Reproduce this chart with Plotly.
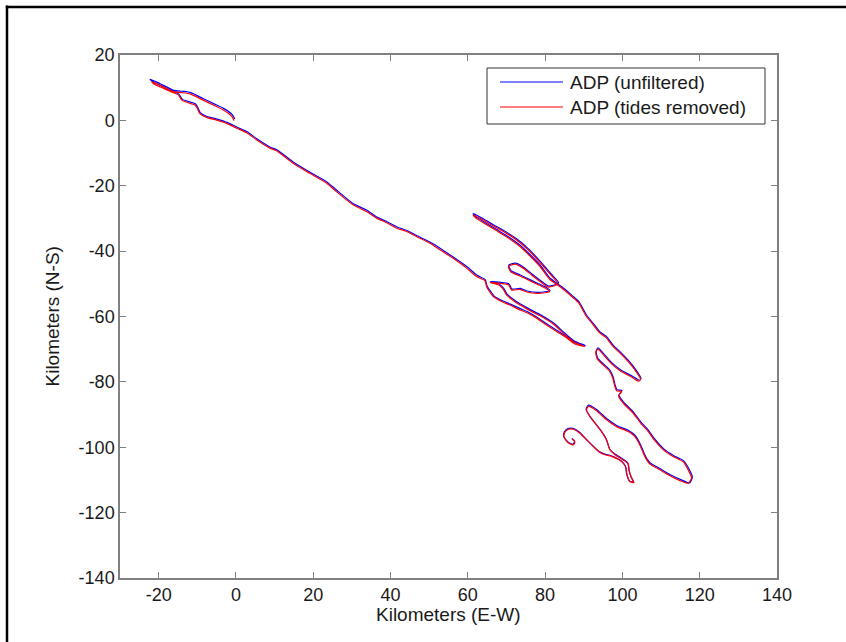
import plotly.graph_objects as go

# Track positions (km): (E-W, N-S)
red_pts = [
    (-0.5, 0.0), (-1.1, 1.3), (-3.3, 3.2), (-6.0, 4.8), (-8.5, 6.2), (-11.9, 8.1), (-14.0, 8.5),
    (-16.2, 8.8), (-19.7, 10.8), (-21.8, 11.8), (-21.0, 11.0), (-19.5, 10.2), (-16.5, 8.6),
    (-14.9, 7.8), (-14.0, 6.2), (-11.9, 5.2), (-10.6, 4.7), (-10.0, 3.7), (-9.3, 2.0), (-7.6, 0.9),
    (-5.0, 0.1), (-2.4, -0.9), (0.2, -2.4), (2.8, -3.8), (5.4, -6.0), (8.8, -8.5), (10.5, -9.3),
    (14.8, -13.1), (19.1, -16.2), (23.5, -19.2), (26.0, -21.8), (30.4, -25.9), (33.8, -27.9),
    (36.4, -29.9), (39.0, -31.3), (41.6, -33.0), (44.2, -34.0), (46.8, -35.6), (50.2, -37.6),
    (52.8, -39.6), (56.2, -42.2), (59.7, -45.2), (62.3, -47.8), (64.4, -49.0),
    (64.9, -51.0), (66.6, -53.9), (68.7, -55.4), (70.9, -56.5), (73.5, -58.0), (75.6, -59.0),
    (77.8, -60.5), (80.4, -62.6), (83.0, -64.6), (85.6, -66.6), (87.7, -68.4), (90.3, -69.2),
    (87.3, -67.7), (84.7, -65.1), (82.1, -62.3), (78.7, -59.8), (76.1, -58.2), (73.5, -56.5),
    (71.3, -54.7), (70.0, -53.4), (69.2, -51.7), (67.9, -50.3), (65.7, -49.6),
    (70.5, -50.3), (71.3, -51.9), (73.5, -51.7), (75.2, -52.5), (78.2, -52.9), (81.2, -52.4),
    (80.2, -51.4), (78.2, -50.3), (76.1, -49.1), (73.5, -47.6), (71.1, -46.3), (70.5, -44.7),
    (72.2, -44.0), (74.3, -45.2), (76.5, -47.3), (78.7, -49.3), (80.8, -51.0), (83.4, -50.0),
    (81.7, -47.6), (78.7, -43.5), (75.6, -39.6), (72.6, -36.6), (69.2, -34.0), (66.6, -32.3),
    (64.0, -30.5), (61.4, -28.9),
    (62.1, -29.9), (64.0, -31.3), (67.4, -33.7), (70.0, -35.6), (73.5, -38.6), (76.1, -41.5),
    (78.7, -44.7), (81.2, -48.6), (84.3, -51.3), (86.9, -53.9), (88.6, -55.7),
    (90.7, -60.0), (92.5, -62.6), (94.2, -65.1), (95.9, -66.6), (97.6, -69.2), (99.4, -71.2),
    (101.5, -73.8), (103.2, -76.3), (104.7, -79.2), (104.2, -79.8), (102.5, -78.6), (99.4, -76.6),
    (97.2, -74.5), (95.5, -72.3), (94.2, -70.5), (93.6, -70.0), (93.1, -71.0),
    (93.5, -73.0), (95.0, -74.8), (96.6, -76.6), (97.5, -78.8), (98.0, -81.2), (98.5, -82.7),
    (99.8, -82.9), (99.0, -84.3), (100.2, -86.5), (102.8, -89.6), (104.7, -92.6), (106.7, -95.2),
    (108.2, -97.7), (110.6, -100.8), (113.1, -102.8), (115.7, -104.4), (117.0, -106.9),
    (117.9, -109.4), (117.0, -111.0), (114.9, -110.2), (112.3, -108.7), (109.7, -106.9),
    (107.1, -105.1), (106.4, -104.1), (105.4, -101.8), (104.5, -99.3), (103.2, -96.7),
    (101.5, -95.2), (98.5, -93.7), (95.9, -91.6), (93.3, -88.8), (91.2, -87.5), (90.7, -88.6),
    (91.6, -90.6), (92.9, -92.6), (94.6, -95.2), (95.9, -97.7), (96.8, -100.8), (98.1, -102.3),
    (100.2, -103.9), (101.5, -105.1), (101.8, -107.4), (102.4, -109.5), (103.0, -110.8),
    (101.9, -110.5), (101.2, -108.4), (100.9, -106.1), (99.8, -104.4), (97.2, -102.8),
    (95.5, -102.3), (94.2, -101.6), (92.5, -99.8), (90.7, -97.7), (89.0, -95.7), (87.3, -94.5),
    (86.0, -94.5), (85.1, -95.5), (84.9, -96.9), (86.0, -98.6), (87.3, -99.3), (87.7, -98.3),
    (87.0, -97.5),
]

blue_pts = [
    (-0.3, 0.4), (-0.9, 1.7), (-3.1, 3.6), (-5.9, 5.2), (-8.4, 6.6), (-11.7, 8.5), (-13.9, 8.9),
    (-16.1, 9.2), (-19.6, 11.2), (-22.2, 12.6), (-21.3, 11.7), (-19.4, 10.6), (-16.4, 8.9),
    (-14.8, 8.1), (-13.9, 6.5), (-11.8, 5.6), (-10.5, 5.1), (-9.9, 4.0), (-9.2, 2.3), (-7.5, 1.2),
    (-4.9, 0.4), (-2.3, -0.6), (0.3, -2.1), (2.9, -3.5), (5.5, -5.7), (8.9, -8.2), (10.6, -9.0),
    (14.9, -12.8), (19.2, -15.9), (23.6, -18.9), (26.1, -21.4), (30.5, -25.6), (33.9, -27.5),
    (36.5, -29.6), (39.1, -31.0), (41.7, -32.6), (44.3, -33.7), (46.9, -35.3), (50.3, -37.3),
    (52.9, -39.2), (56.3, -41.9), (59.8, -44.8), (62.4, -47.4), (64.5, -48.7),
    (65.0, -50.7), (66.7, -53.6), (68.8, -55.1), (71.0, -56.2), (73.6, -57.6), (75.7, -58.7),
    (77.9, -60.2), (80.5, -62.3), (83.1, -64.3), (85.7, -66.3), (87.8, -68.0), (90.4, -68.9),
    (87.4, -67.4), (84.8, -64.8), (82.2, -62.0), (78.8, -59.5), (76.2, -57.9), (73.6, -56.2),
    (71.4, -54.4), (70.1, -53.1), (69.3, -51.4), (68.0, -50.0), (65.8, -49.3),
    (70.6, -50.0), (71.4, -51.6), (73.6, -51.4), (75.3, -52.2), (78.3, -52.6), (81.3, -52.1),
    (80.3, -51.1), (78.3, -50.0), (76.2, -48.8), (73.6, -47.3), (71.2, -46.0), (70.6, -44.3),
    (72.3, -43.7), (74.4, -44.9), (76.6, -47.0), (78.8, -49.0), (80.9, -50.7), (83.5, -49.7),
    (81.8, -47.3), (78.8, -43.2), (75.7, -39.3), (72.7, -36.3), (69.3, -33.7), (66.7, -32.0),
    (64.1, -30.2), (61.4, -28.5),
    (62.2, -29.6), (64.1, -31.0), (67.5, -33.4), (70.1, -35.3), (73.6, -38.3), (76.2, -41.2),
    (78.8, -44.4), (81.3, -48.3), (84.4, -51.0), (87.0, -53.6), (88.7, -55.4),
    (90.8, -59.7), (92.6, -62.3), (94.3, -64.8), (96.0, -66.3), (97.7, -68.9), (99.5, -70.9),
    (101.6, -73.5), (103.3, -76.0), (104.8, -78.9), (104.4, -79.5), (102.6, -78.3), (99.5, -76.3),
    (97.3, -74.2), (95.6, -72.0), (94.3, -70.2), (93.7, -69.6), (93.2, -70.7),
    (93.6, -72.7), (95.1, -74.5), (96.7, -76.3), (97.6, -78.5), (98.1, -80.9), (98.6, -82.4),
    (99.9, -82.6), (99.1, -84.0), (100.3, -86.2), (102.9, -89.3), (104.8, -92.3), (106.8, -94.9),
    (108.3, -97.4), (110.7, -100.5), (113.2, -102.5), (115.8, -104.1), (117.2, -106.6),
    (118.1, -109.1), (117.4, -110.9), (115.1, -109.9), (112.4, -108.4), (109.8, -106.6),
    (107.2, -104.8), (106.5, -103.8), (105.5, -101.5), (104.6, -99.0), (103.3, -96.4),
    (101.6, -94.9), (98.6, -93.4), (96.0, -91.3), (93.4, -88.5), (91.2, -87.1), (90.6, -88.4),
    (91.5, -90.4), (92.8, -92.4), (94.5, -95.0), (95.8, -97.5), (96.7, -100.6), (98.0, -102.0),
    (100.1, -103.6), (101.4, -104.8), (101.7, -107.1), (102.3, -109.2), (102.9, -110.6),
    (101.8, -110.3), (101.1, -108.2), (100.8, -105.9), (99.7, -104.2), (97.1, -102.6),
    (95.4, -102.1), (94.1, -101.4), (92.4, -99.6), (90.6, -97.5), (88.9, -95.4), (87.2, -94.2),
    (85.9, -94.3), (85.0, -95.3), (84.8, -96.7), (85.9, -98.4), (87.2, -99.1), (87.6, -98.1),
    (86.9, -97.3),
]

series_names = ["ADP (unfiltered)", "ADP (tides removed)"]
series_colors = ["#0000FF", "#FF0000"]
x_ticks = [-20, 0, 20, 40, 60, 80, 100, 120, 140]
x_tick_labels = ["-20", "0", "20", "40", "60", "80", "100", "120", "140"]
y_ticks = [20, 0, -20, -40, -60, -80, -100, -120, -140]
y_tick_labels = ["20", "0", "-20", "-40", "-60", "-80", "-100", "-120", "-140"]
x_title = "Kilometers (E-W)"
y_title = "Kilometers (N-S)"

W, H = 846, 642
L, R, T, B = 120, 777, 55, 578
FONT = "Arial, Liberation Sans, Helvetica, sans-serif"
TXT = "#1a1a1a"
AX = "#808080"


def px(x):
    return (x - L) / (R - L)


def py(y):
    return (B - y) / (B - T)


fig = go.Figure()
for pts, name, col in zip([blue_pts, red_pts], series_names, series_colors):
    fig.add_trace(go.Scatter(
        x=[p[0] for p in pts], y=[p[1] for p in pts], mode="lines", name=name,
        line=dict(color=col, width=1.2, shape="spline", smoothing=0.6),
        showlegend=False,
    ))

shapes = []
# outer frame (left and top edges visible)
shapes.append(dict(type="line", xref="paper", yref="paper", x0=px(7), x1=px(7), y0=py(5.5), y1=py(660),
                   line=dict(color="black", width=2.5)))
shapes.append(dict(type="line", xref="paper", yref="paper", x0=px(5.8), x1=px(860), y0=py(7), y1=py(7),
                   line=dict(color="black", width=2.5)))
# legend box
shapes.append(dict(type="rect", xref="paper", yref="paper", x0=px(487), x1=px(765), y0=py(68), y1=py(124),
                   line=dict(color="#333333", width=1), fillcolor="white", layer="above"))
annotations = []
for i, (name, col) in enumerate(zip(series_names, series_colors)):
    yy = 82 + i * 25
    shapes.append(dict(type="line", xref="paper", yref="paper", x0=px(500), x1=px(563), y0=py(yy), y1=py(yy),
                       line=dict(color=col, width=1.1), layer="above"))
    annotations.append(dict(text=name, xref="paper", yref="paper", x=px(568), y=py(yy), xanchor="left",
                            yanchor="middle", showarrow=False, font=dict(family=FONT, size=19, color=TXT)))

annotations.append(dict(text=x_title, xref="paper", yref="paper", x=px(448.5), y=py(614), xanchor="center",
                        yanchor="middle", showarrow=False, font=dict(family=FONT, size=19, color=TXT)))
annotations.append(dict(text=y_title, xref="paper", yref="paper", x=px(52), y=py(316.5), xanchor="center",
                        yanchor="middle", showarrow=False, textangle=-90, font=dict(family=FONT, size=19, color=TXT)))

axis_common = dict(showgrid=False, zeroline=False, showline=True, linecolor=AX, linewidth=1.5, mirror="ticks",
                   ticks="inside", ticklen=6, tickcolor=AX, tickwidth=1,
                   tickfont=dict(family=FONT, size=18, color=TXT))

fig.update_layout(
    width=W, height=H, margin=dict(l=L, r=W - R, t=T, b=H - B),
    paper_bgcolor="white", plot_bgcolor="white",
    xaxis=dict(range=[-30, 140], tickvals=x_ticks, ticktext=x_tick_labels, **axis_common),
    yaxis=dict(range=[-140, 20], tickvals=y_ticks, ticktext=y_tick_labels, **axis_common),
    shapes=shapes, annotations=annotations,
)

fig.write_html("out.html")
